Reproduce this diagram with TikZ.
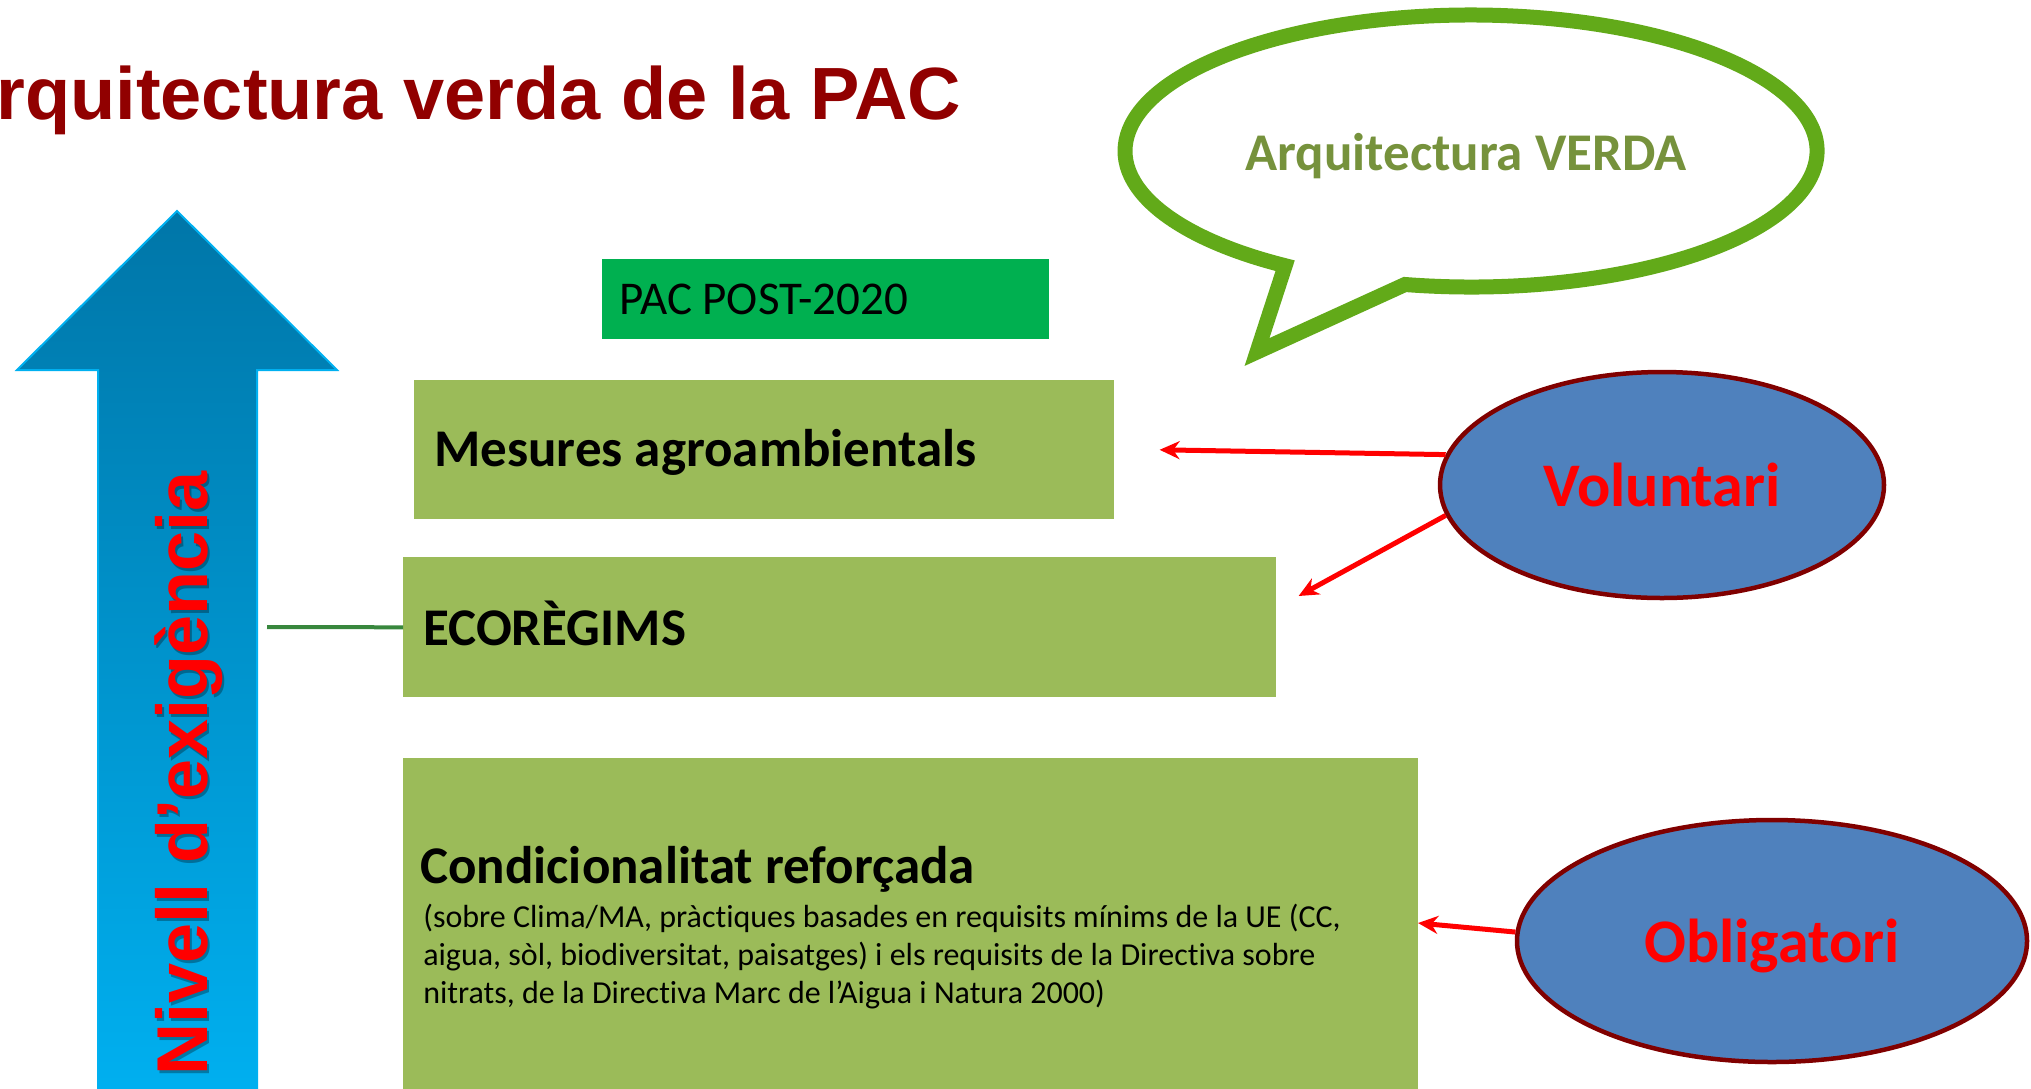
\documentclass[tikz,border=0pt]{standalone}
\usepackage{fontspec}
\setmainfont{Carlito}[Ligatures=NoCommon]
\newfontfamily\arialfont{Liberation Sans}
\usepackage{tikz}
\usetikzlibrary{arrows.meta,shapes.geometric}

\definecolor{vermellfosc}{RGB}{145,0,0}
\definecolor{verdbafarada}{RGB}{98,170,25}
\definecolor{verdoliva}{RGB}{118,146,60}
\definecolor{verdpac}{RGB}{0,176,80}
\definecolor{verdcaixa}{RGB}{155,187,89}
\definecolor{blauel}{RGB}{79,129,189}
\definecolor{granat}{RGB}{128,0,0}
\definecolor{blaudalt}{RGB}{0,118,168}
\definecolor{blaubaix}{RGB}{0,176,240}
\definecolor{verdlinia}{RGB}{56,135,61}

\begin{document}
\begin{tikzpicture}
[x=1pt,y=-1pt,>={Stealth[length=20pt,width=18pt]},semithick]
\tikzstyle{caixa}=[fill=verdcaixa,inner sep=0,anchor=north west]
\tikzstyle{etiqueta}=[inner sep=0,anchor=base west,font=\bfseries\fontsize{53pt}{60pt}\selectfont]
\tikzstyle{nota}=[inner sep=0,anchor=base west,font=\fontsize{32pt}{38pt}\selectfont]
\tikzstyle{elip}=[ellipse,draw=granat,line width=4.5pt,fill=blauel,inner sep=0,
  text=red,text height=43pt,text depth=0pt,font=\bfseries\fontsize{62pt}{64pt}\selectfont]
\tikzstyle{fletxa}=[->,draw=red,line width=5pt]
\useasboundingbox (0,0) rectangle (2031,1088);

% titol
\node[inner sep=0,anchor=base west,text=vermellfosc,font=\arialfont\bfseries\fontsize{74pt}{80pt}\selectfont]
  (titol) at (-4,119) {rquitectura verda de la PAC};

% fletxa blava
\draw[draw=blaubaix,line width=2pt,top color=blaudalt,bottom color=blaubaix]
  (98,1100) -- (98,370) -- (17,370) -- (177,211) -- (337,370) -- (257,370) -- (257,1100) -- cycle;
\node[rotate=90,inner sep=0,anchor=base west,text=black,opacity=0.3,font=\arialfont\bfseries\fontsize{72pt}{72pt}\selectfont]
  (ombra) at (209.5,1078.5) {Nivell d’exigència};
\node[rotate=90,inner sep=0,anchor=base west,text=red,font=\arialfont\bfseries\fontsize{72pt}{72pt}\selectfont]
  (nivell) at (207,1076) {Nivell d’exigència};

% bafarada
\draw[draw=verdbafarada,fill=white,line width=15pt]
  (1405,284.5) arc[start angle=259,end angle=597.5,x radius=346pt,y radius=136pt] -- (1257,352) -- cycle;
\node[inner sep=0,anchor=base,text=verdoliva,font=\bfseries\fontsize{53pt}{60pt}\selectfont]
  (verda) at (1466,170) {Arquitectura VERDA};

% caixes
\node[caixa,fill=verdpac,minimum width=447pt,minimum height=80pt] (pac) at (602,259) {};
\node[inner sep=0,anchor=base west,font=\fontsize{47pt}{52pt}\selectfont] (pactxt) at (619,314) {PAC POST-2020};

\node[caixa,minimum width=700pt,minimum height=139pt] (mes) at (414,380) {};
\node[etiqueta] (mestxt) at (434,466) {Mesures agroambientals};

\node[caixa,minimum width=873pt,minimum height=140pt] (ecor) at (403,557) {};
\node[etiqueta] (ecortxt) at (423,645) {ECORÈGIMS};

\node[caixa,minimum width=1015pt,minimum height=345pt] (cond) at (403,758) {};
\node[etiqueta] (condtxt) at (420,883) {Condicionalitat reforçada};
\node[nota] (nota1) at (423,927) {(sobre Clima/MA, pràctiques basades en requisits mínims de la UE (CC,};
\node[nota] (nota2) at (423,965) {aigua, sòl, biodiversitat, paisatges) i els requisits de la Directiva sobre};
\node[nota] (nota3) at (423,1003) {nitrats, de la Directiva Marc de l’Aigua i Natura 2000)};

% el·lipses
\node[elip,minimum width=444pt,minimum height=226pt] (vol) at (1662,485) {Voluntari};
\node[elip,minimum width=510pt,minimum height=242pt] (obl) at (1772,941) {Obligatori};

% connectors
\coordinate (eix) at (267,627);
\coordinate (pm) at ([xshift=45pt]mes.east);
\coordinate (pe) at ([xshift=22pt,yshift=-39pt]ecor.north east);
\coordinate (pc) at (1418,923);

\draw[verdlinia,line width=4pt] (eix) -- (ecor.west);
\path
(vol.172.8) edge [fletxa] (pm)
(vol.188.5) edge [fletxa] (pe)
(obl.178) edge [fletxa] (pc)
;\end{tikzpicture}
\end{document}
